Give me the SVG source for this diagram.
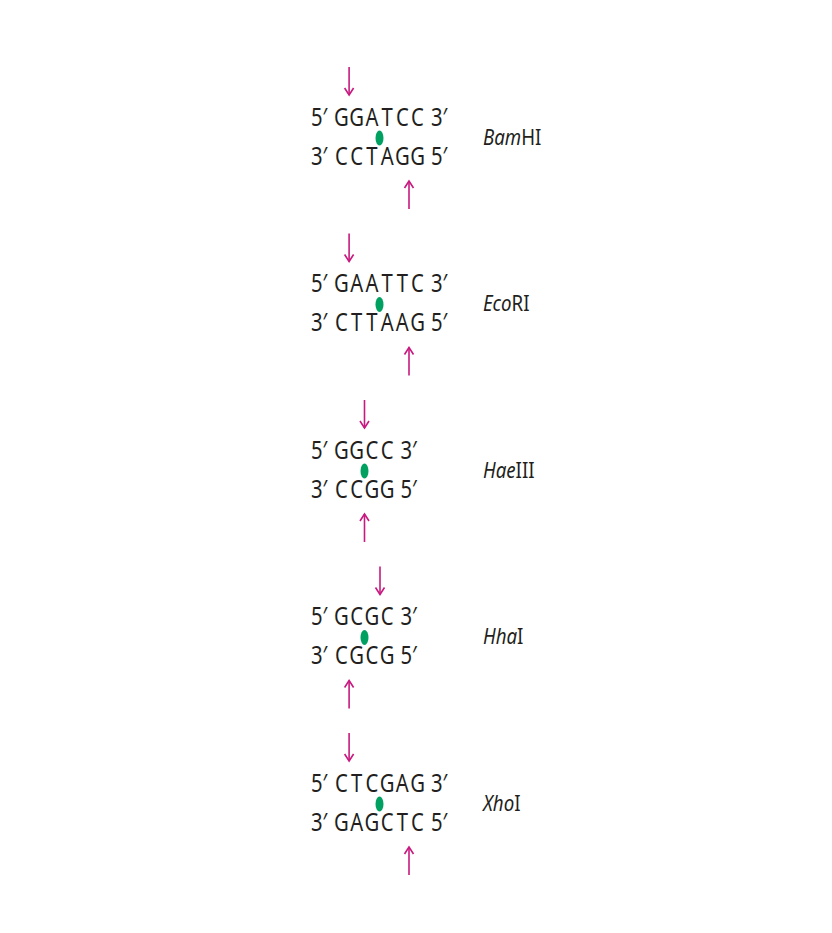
<svg xmlns="http://www.w3.org/2000/svg" width="832" height="933" viewBox="0 0 832 933">
<style>
.s{font-family:"Noto Sans","Open Sans",sans-serif;font-size:26px;fill:#231f20}
.n{font-family:"Noto Sans","Open Sans",sans-serif;font-size:22px;fill:#231f20}
.i{font-style:italic}
.arr{stroke:#c8197f;stroke-width:1.6;fill:none;marker-end:url(#ah)}
.dot{fill:#00a060}
</style>
<defs>
<marker id="ah" markerUnits="userSpaceOnUse" markerWidth="16" markerHeight="16" viewBox="-9 -8 16 16" refX="0" refY="0" orient="auto">
<path d="M-7,-4.5 L0,0 L-7,4.5" fill="none" stroke="#c8197f" stroke-width="1.6"/>
</marker>
</defs>
<rect width="832" height="933" fill="#ffffff"/>

<g id="connectors">
<line class="arr" x1="349.1" y1="67" x2="349.1" y2="95"/>
<line class="arr" x1="409" y1="209" x2="409" y2="181"/>
<line class="arr" x1="349.1" y1="233.5" x2="349.1" y2="261.5"/>
<line class="arr" x1="409" y1="375.5" x2="409" y2="347.5"/>
<line class="arr" x1="364.5" y1="400" x2="364.5" y2="428"/>
<line class="arr" x1="364.5" y1="542" x2="364.5" y2="514"/>
<line class="arr" x1="380" y1="566.5" x2="380" y2="594.5"/>
<line class="arr" x1="349.1" y1="708.5" x2="349.1" y2="680.5"/>
<line class="arr" x1="349.1" y1="733" x2="349.1" y2="761"/>
<line class="arr" x1="409" y1="875" x2="409" y2="847"/>
</g>

<g id="BamHI">
<g transform="scale(0.78,1)">
<text class="s" x="398.7" y="126">5′</text>
<text class="s" x="437.8 457.3 476.8 496.3 515.8 535.3" y="126" text-anchor="middle">GGATCC</text>
<text class="s" x="552.6" y="126">3′</text>
<text class="s" x="398.7" y="165">3′</text>
<text class="s" x="437.8 457.3 476.8 496.3 515.8 535.3" y="165" text-anchor="middle">CCTAGG</text>
<text class="s" x="552.6" y="165">5′</text>
</g>
<ellipse class="dot" cx="379.5" cy="138" rx="4" ry="7.5"/>
<text class="n" transform="scale(0.85,1)" x="568.2" y="145"><tspan class="i">Bam</tspan>HI</text>
</g>

<g id="EcoRI" transform="translate(0,166.5)">
<g transform="scale(0.78,1)">
<text class="s" x="398.7" y="126">5′</text>
<text class="s" x="437.8 457.3 476.8 496.3 515.8 535.3" y="126" text-anchor="middle">GAATTC</text>
<text class="s" x="552.6" y="126">3′</text>
<text class="s" x="398.7" y="165">3′</text>
<text class="s" x="437.8 457.3 476.8 496.3 515.8 535.3" y="165" text-anchor="middle">CTTAAG</text>
<text class="s" x="552.6" y="165">5′</text>
</g>
<ellipse class="dot" cx="379.5" cy="138" rx="4" ry="7.5"/>
<text class="n" transform="scale(0.85,1)" x="568.2" y="145"><tspan class="i">Eco</tspan>RI</text>
</g>

<g id="HaeIII" transform="translate(0,333)">
<g transform="scale(0.78,1)">
<text class="s" x="398.7" y="126">5′</text>
<text class="s" x="437.8 457.3 476.8 496.3" y="126" text-anchor="middle">GGCC</text>
<text class="s" x="513.5" y="126">3′</text>
<text class="s" x="398.7" y="165">3′</text>
<text class="s" x="437.8 457.3 476.8 496.3" y="165" text-anchor="middle">CCGG</text>
<text class="s" x="513.5" y="165">5′</text>
</g>
<ellipse class="dot" cx="364.5" cy="138" rx="4" ry="7.5"/>
<text class="n" transform="scale(0.85,1)" x="568.2" y="145"><tspan class="i">Hae</tspan>III</text>
</g>

<g id="HhaI" transform="translate(0,499.5)">
<g transform="scale(0.78,1)">
<text class="s" x="398.7" y="126">5′</text>
<text class="s" x="437.8 457.3 476.8 496.3" y="126" text-anchor="middle">GCGC</text>
<text class="s" x="513.5" y="126">3′</text>
<text class="s" x="398.7" y="165">3′</text>
<text class="s" x="437.8 457.3 476.8 496.3" y="165" text-anchor="middle">CGCG</text>
<text class="s" x="513.5" y="165">5′</text>
</g>
<ellipse class="dot" cx="364.5" cy="138" rx="4" ry="7.5"/>
<text class="n" transform="scale(0.85,1)" x="568.2" y="145"><tspan class="i">Hha</tspan>I</text>
</g>

<g id="XhoI" transform="translate(0,666)">
<g transform="scale(0.78,1)">
<text class="s" x="398.7" y="126">5′</text>
<text class="s" x="437.8 457.3 476.8 496.3 515.8 535.3" y="126" text-anchor="middle">CTCGAG</text>
<text class="s" x="552.6" y="126">3′</text>
<text class="s" x="398.7" y="165">3′</text>
<text class="s" x="437.8 457.3 476.8 496.3 515.8 535.3" y="165" text-anchor="middle">GAGCTC</text>
<text class="s" x="552.6" y="165">5′</text>
</g>
<ellipse class="dot" cx="379.5" cy="138" rx="4" ry="7.5"/>
<text class="n" transform="scale(0.85,1)" x="568.2" y="145"><tspan class="i">Xho</tspan>I</text>
</g>
</svg>
